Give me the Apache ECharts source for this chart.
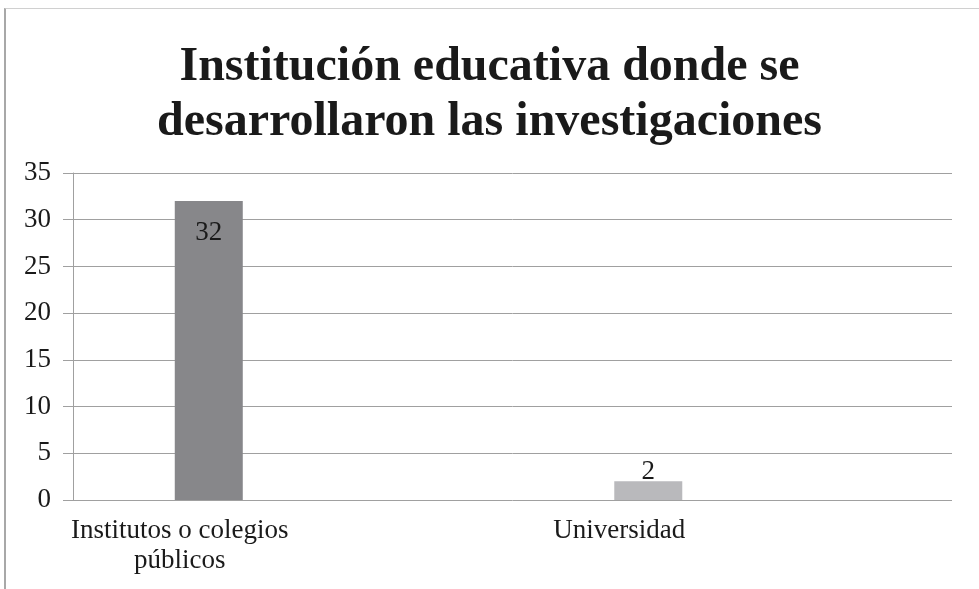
<!DOCTYPE html>
<html>
<head>
<meta charset="utf-8">
<script src="https://cdn.jsdelivr.net/npm/echarts@6/dist/echarts.min.js"></script>
<style>
  body { margin: 0; background: #fff; }
  #chart-panel { width: 979px; height: 589px; }
  #frame { position: absolute; left: 4px; top: 8px; width: 975px; height: 581px;
           border-left: 2px solid #a8a8a8; border-top: 1px solid #d0d0d0; pointer-events: none; }
</style>
</head>
<body>
<div id="chart-panel"></div>
<div id="frame"></div>
<script>
var categories = ['Institutos o colegios\npúblicos', 'Universidad'];
var values = [32, 2];
var barColors = ['#87878a', '#b9b9bc'];
var labelPos = ['insideTop', 'top'];

var font = '"Liberation Serif", "Times New Roman", serif';

var seriesData = values.map(function (v, i) {
    return {
        value: v,
        itemStyle: { color: barColors[i] },
        label: { position: labelPos[i], distance: labelPos[i] == 'top' ? -4 : 18 }
    };
});

var option = {
    animation: false,
    title: {
        text: 'Institución educativa donde se\ndesarrollaron las investigaciones',
        left: 'center',
        top: 35,
        textStyle: {
            fontFamily: font,
            fontWeight: 'bold',
            fontSize: 48,
            lineHeight: 55,
            color: '#1a1a1a'
        }
    },
    grid: { left: 73, right: 27, top: 173, bottom: 89, containLabel: false },
    xAxis: {
        type: 'category',
        data: categories,
        axisLine: { show: false },
        axisTick: { show: false },
        axisLabel: {
            fontFamily: font,
            fontSize: 27,
            lineHeight: 30,
            color: '#1a1a1a',
            margin: 16,
            padding: [0, 226, 0, 0]
        }
    },
    yAxis: {
        type: 'value',
        min: 0,
        max: 35,
        interval: 5,
        axisLine: { show: true, lineStyle: { color: '#a0a0a0', width: 1 } },
        axisTick: { show: true, length: 10, lineStyle: { color: '#a0a0a0' } },
        axisLabel: {
            fontFamily: font,
            fontSize: 27,
            color: '#1a1a1a',
            margin: 22
        },
        splitLine: { lineStyle: { color: '#a0a0a0', width: 1 } }
    },
    series: [{
        type: 'bar',
        data: seriesData,
        barWidth: 68,
        barGap: '147%',
        label: {
            show: true,
            fontFamily: font,
            fontSize: 27,
            color: '#1a1a1a'
        }
    }, {
        type: 'bar',
        data: [],
        barWidth: 68
    }]
};

var myChart = echarts.init(document.getElementById('chart-panel'));
myChart.setOption(option);
</script>
</body>
</html>
